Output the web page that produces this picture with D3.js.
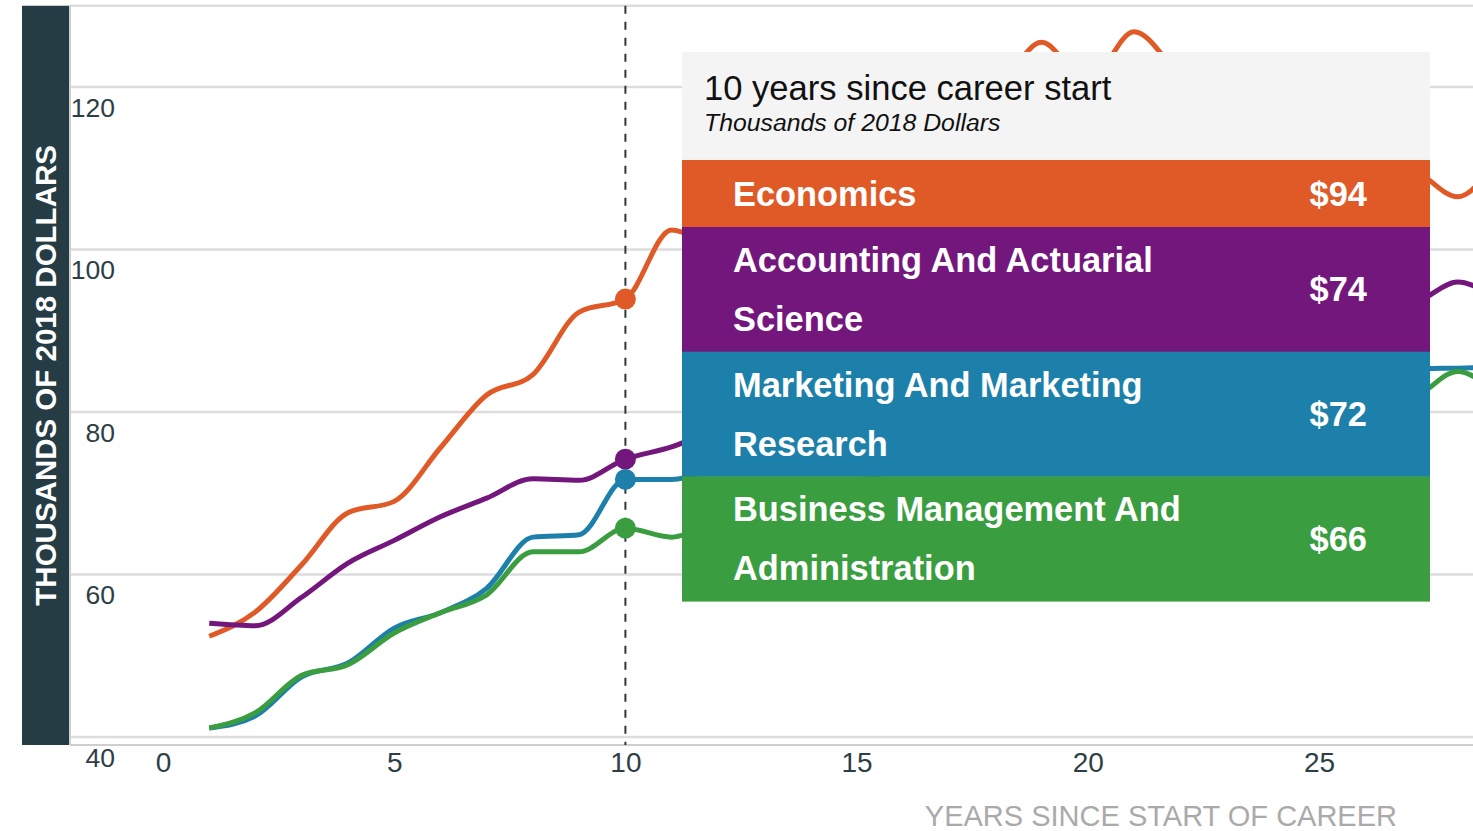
<!DOCTYPE html>
<html>
<head>
<meta charset="utf-8">
<script src="https://cdn.jsdelivr.net/npm/d3@7"></script>
<style>
  html, body { margin: 0; padding: 0; background: #fff; overflow: hidden; }
  svg { display: block; font-family: "Liberation Sans", Arial, sans-serif; }
</style>
</head>
<body>
<svg id="chart"></svg>
<script>
const width = 1473, height = 831;

// years since start of career
const years = [1, 2, 3, 4, 5, 6, 7, 8, 9, 10, 11, 12, 13, 14, 15, 16, 17, 18, 19, 20, 21, 22, 23, 24, 25, 26, 27, 28, 29];

// median earnings, thousands of 2018 dollars
const economics = [52.4, 55.4, 61.2, 67.6, 69.0, 75.6, 82.1, 84.6, 92.3, 93.9, 102.4, 100.5, 104, 107, 110, 113, 116, 119, 125.5, 120.5, 126.8, 121.5, 118, 115, 113, 111, 110, 106.5, 113];
const accounting = [54.0, 53.7, 57.2, 61.4, 64.2, 67.1, 69.4, 71.8, 71.6, 74.2, 75.7, 78, 79.5, 81, 82.5, 84, 85.5, 86.5, 88, 89, 90, 91, 92, 92.5, 93, 93.5, 93.5, 96, 93];
const marketing = [41.1, 42.6, 47.4, 49.1, 53.4, 55.3, 58.3, 64.6, 64.9, 71.7, 71.7, 73, 74.5, 76, 77, 78, 79.5, 80.5, 81, 82, 83, 83.5, 84, 84.5, 85, 85, 85.3, 85.4, 85.5];
const business = [41.1, 43.0, 47.6, 48.9, 52.8, 55.3, 57.5, 62.8, 62.8, 65.7, 64.6, 67, 68.5, 70, 71.5, 73, 74, 75.5, 76.5, 77.5, 78.5, 79.5, 80, 81, 81.5, 81.5, 81.8, 85.0, 81];

const majors = ["Economics", "Accounting And Actuarial Science", "Marketing And Marketing Research", "Business Management And Administration"];
const colors = ["#e05a28", "#74177d", "#1d80aa", "#3a9d3f"];
const seriesValues = [economics, accounting, marketing, business];

const yTicks = [40, 60, 80, 100, 120];
const xTicks = [0, 5, 10, 15, 20, 25];
const selectedYear = 10;

const svg = d3.select("#chart").attr("width", width).attr("height", height);

const x = d3.scaleLinear().domain([0, 25]).range([163, 1319]);
const y = d3.scaleLinear().domain([40, 130]).range([737, 5.75]);
const plotLeft = 70;

// y title panel
svg.append("rect")
  .attr("x", 22).attr("y", y(130))
  .attr("width", plotLeft - 22).attr("height", 745 - y(130))
  .attr("fill", "#263c44");
svg.append("text")
  .attr("transform", `translate(56,${(y(130) + 745) / 2}) rotate(-90)`)
  .attr("text-anchor", "middle")
  .attr("fill", "#fff")
  .attr("font-weight", "bold")
  .attr("font-size", "29.5px")
  .text("THOUSANDS OF 2018 DOLLARS");

// gridlines
const grid = svg.append("g");
grid.selectAll("line")
  .data(yTicks.concat([130]))
  .enter()
  .append("line")
    .attr("x1", plotLeft).attr("x2", width)
    .attr("y1", d => y(d)).attr("y2", d => y(d))
    .attr("stroke", "#dddddd")
    .attr("stroke-width", 2.5);

// axis lines
svg.append("line")
  .attr("x1", plotLeft).attr("x2", width)
  .attr("y1", 745).attr("y2", 745)
  .attr("stroke", "#cfcfcf").attr("stroke-width", 2);
svg.append("line")
  .attr("x1", plotLeft).attr("x2", plotLeft)
  .attr("y1", y(130)).attr("y2", 745)
  .attr("stroke", "#cfcfcf").attr("stroke-width", 2);

// y tick labels
const yAxis = d3.axisLeft(y).tickValues(yTicks).tickSize(0).tickPadding(0);
const yg = svg.append("g").attr("transform", "translate(115,21)").call(yAxis);
yg.select(".domain").remove();
yg.selectAll("text")
  .attr("font-family", "'Liberation Sans', Arial, sans-serif")
  .attr("font-size", "26.5px")
  .attr("fill", "#2d3e45")
  .attr("x", 0);

// x tick labels
const xAxis = d3.axisBottom(x).tickValues(xTicks).tickSize(0).tickPadding(0);
const xg = svg.append("g").attr("transform", "translate(0,752)").call(xAxis);
xg.select(".domain").remove();
xg.selectAll("text")
  .attr("font-family", "'Liberation Sans', Arial, sans-serif")
  .attr("font-size", "28px")
  .attr("fill", "#2d3e45");

svg.append("text")
  .attr("x", 1397).attr("y", 826)
  .attr("text-anchor", "end")
  .attr("fill", "#aaaaaa")
  .attr("font-size", "29px")
  .text("YEARS SINCE START OF CAREER");

// hover guide
svg.append("line")
  .attr("x1", x(selectedYear)).attr("x2", x(selectedYear))
  .attr("y1", y(130)).attr("y2", 745)
  .attr("stroke", "#2a3a40")
  .attr("stroke-width", 2)
  .attr("stroke-dasharray", "8,8");

// lines
const line = d3.line()
  .x((d, i) => x(years[i]))
  .y(d => y(d))
  .curve(d3.curveMonotoneX);

svg.append("g").selectAll("path")
  .data(seriesValues)
  .enter()
  .append("path")
    .attr("d", line)
    .attr("fill", "none")
    .attr("stroke", (d, i) => colors[i])
    .attr("stroke-width", 5)
    .attr("stroke-linejoin", "round");

const idx = years.indexOf(selectedYear);
svg.append("g").selectAll("circle")
  .data(seriesValues)
  .enter()
  .append("circle")
    .attr("cx", x(selectedYear))
    .attr("cy", d => y(d[idx]))
    .attr("r", 10.5)
    .attr("fill", (d, i) => colors[i]);

// tooltip
const tipX = 682, tipY = 52, tipW = 748, headH = 108;
const textLineH = 59, rowLineH = 57.7, rowPad = 9.3;
const tip = svg.append("g");
tip.append("rect")
  .attr("x", tipX).attr("y", tipY)
  .attr("width", tipW).attr("height", headH)
  .attr("fill", "#f4f4f4");
tip.append("text")
  .attr("x", 704).attr("y", 100)
  .attr("font-size", "34.6px")
  .attr("fill", "#111")
  .text(selectedYear + " years since career start");
tip.append("text")
  .attr("x", 704).attr("y", 131)
  .attr("font-size", "24.8px")
  .attr("font-style", "italic")
  .attr("fill", "#111")
  .text("Thousands of 2018 Dollars");

// word wrap with a measuring text node
const measure = svg.append("text").attr("font-size", "34px").attr("font-weight", "bold");
function wrap(label, maxW) {
  const words = label.split(" ");
  const lines = [];
  let cur = "";
  words.forEach(w => {
    const test = cur ? cur + " " + w : w;
    measure.text(test);
    if (measure.node().getComputedTextLength() > maxW && cur) {
      lines.push(cur);
      cur = w;
    } else {
      cur = test;
    }
  });
  lines.push(cur);
  return lines;
}

let rowY = tipY + headH;
majors.forEach((m, i) => {
  const lines = wrap(m, 470);
  const h = lines.length * rowLineH + rowPad;
  const row = tip.append("g");
  row.append("rect")
    .attr("x", tipX).attr("y", rowY)
    .attr("width", tipW).attr("height", h + 0.5)
    .attr("fill", colors[i]);
  const mid = rowY + h / 2;
  lines.forEach((l, j) => {
    row.append("text")
      .attr("x", 733)
      .attr("y", mid + (j - (lines.length - 1) / 2) * textLineH)
      .attr("dy", "0.35em")
      .attr("font-size", "34.4px")
      .attr("font-weight", "bold")
      .attr("fill", "#fff")
      .text(l);
  });
  row.append("text")
    .attr("x", 1367)
    .attr("y", mid)
    .attr("dy", "0.35em")
    .attr("text-anchor", "end")
    .attr("font-size", "34.4px")
    .attr("font-weight", "bold")
    .attr("fill", "#fff")
    .text("$" + d3.format(".0f")(seriesValues[i][idx]));
  rowY += h;
});
measure.remove();
</script>
</body>
</html>
